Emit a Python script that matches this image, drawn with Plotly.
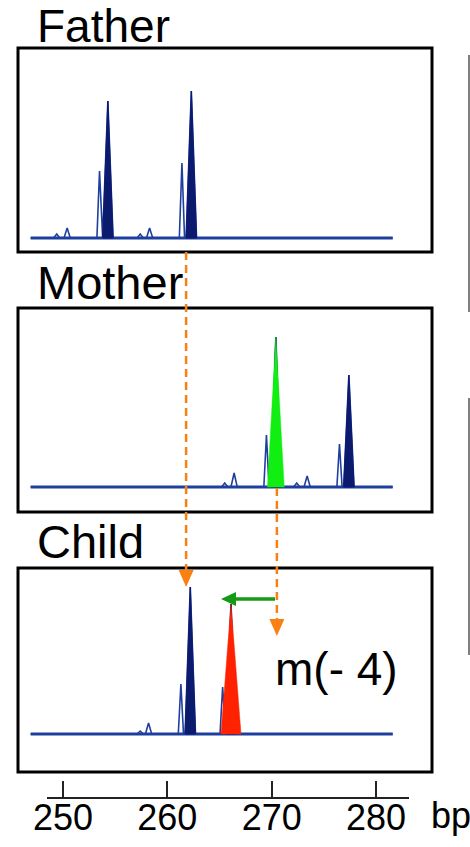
import plotly.graph_objects as go

W, H = 470, 847
FONT = "Liberation Sans, Arial, sans-serif"

# ---- fragment sizes (bp) and signal heights (RFU) ----
father_bp = [249.4, 250.4, 253.5, 254.3, 257.4, 258.3, 261.4, 262.3]
father_rfu = [40, 100, 670, 1370, 40, 100, 750, 1470]
father_kind = ["minor", "minor", "stutter", "allele", "minor", "minor", "stutter", "allele"]

mother_bp = [265.5, 266.4, 269.5, 270.4, 272.4, 273.4, 276.5, 277.4]
mother_rfu = [40, 140, 520, 1500, 40, 110, 430, 1120]
mother_kind = ["minor", "minor", "stutter", "allele", "minor", "minor", "stutter", "allele"]

child_bp = [257.4, 258.2, 261.3, 262.2, 265.3, 266.1]
child_rfu = [30, 110, 500, 1470, 470, 1300]
child_kind = ["minor", "minor", "stutter", "allele", "stutter", "allele"]

run_start, run_end = 246.9, 281.6          # scanned size window
size_ticks = [250, 260, 270, 280]

paternal_allele = 261.8                    # passed father -> child
maternal_allele = 270.5                    # mother's allele, expected in child
maternal_peak = 270.4                      # highlighted in mother
mutant_peak = 266.1                        # highlighted in child
mutation_label = "m(- 4)"

# ---- drawing constants ----
BASE = "#1f3f9f"
NAVY = "#0c1a6e"
GREEN = "#11ee11"
RED = "#ff2200"
ORANGE = "#f98012"
ARROW_GREEN = "#149a14"

HALF_W = {"minor": 0.3, "stutter": 0.25, "allele": 0.5}

# pixel -> bp mapping used for the common size axis
PX_PER_BP = (376 - 63) / 30.0
def bp_at(px):
    return 250 + (px - 63) / PX_PER_BP

def py(p):
    return 1 - p / H

def px(p):
    return p / W

panels = [
    # name, peaks, box top/bottom px, baseline px, title centre px, title size
    ("Father", father_bp, father_rfu, father_kind, 48, 252, 238, 26, 46),
    ("Mother", mother_bp, mother_rfu, mother_kind, 308, 512, 487, 282.5, 47),
    ("Child", child_bp, child_rfu, child_kind, 568, 772, 734, 541.5, 47),
]

fig = go.Figure()
layout = dict(
    width=W, height=H, margin=dict(l=0, r=0, t=0, b=0, pad=0, autoexpand=False),
    paper_bgcolor="white", plot_bgcolor="rgba(0,0,0,0)",
    showlegend=False, font=dict(family=FONT, color="black"),
)
shapes = []
annotations = []

for i, (name, bps, rfus, kinds, top, bot, base, title_y, title_size) in enumerate(panels, start=1):
    xa = "x" if i == 1 else f"x{i}"
    ya = "y" if i == 1 else f"y{i}"
    layout["xaxis" if i == 1 else f"xaxis{i}"] = dict(
        domain=[px(18), px(432)], range=[bp_at(18), bp_at(432)],
        anchor=ya, visible=False, fixedrange=True, automargin=False)
    layout["yaxis" if i == 1 else f"yaxis{i}"] = dict(
        domain=[py(bot), py(top)], range=[-(bot - base) * 10, (base - top) * 10],
        anchor=xa, visible=False, fixedrange=True, automargin=False)

    # flat baseline of the run
    fig.add_trace(go.Scatter(x=[run_start, run_end], y=[0, 0], mode="lines",
                             line=dict(color=BASE, width=3), xaxis=xa, yaxis=ya,
                             hoverinfo="skip"))
    # electropherogram trace with every peak
    order = sorted(range(len(bps)), key=lambda k: bps[k])
    xs, ys = [run_start], [0]
    for k in order:
        w = HALF_W[kinds[k]]
        xs += [bps[k] - w, bps[k], bps[k] + w]
        ys += [0, rfus[k], 0]
    xs.append(run_end)
    ys.append(0)
    fig.add_trace(go.Scatter(x=xs, y=ys, mode="lines",
                             line=dict(color=BASE, width=1.6), xaxis=xa, yaxis=ya,
                             hoverinfo="skip"))
    # filled allele peaks
    for k in order:
        if kinds[k] != "allele":
            continue
        w = HALF_W["allele"]
        fig.add_trace(go.Scatter(x=[bps[k] - w, bps[k], bps[k] + w, bps[k] - w],
                                 y=[0, rfus[k], 0, 0], mode="lines", fill="toself",
                                 fillcolor=NAVY, line=dict(color=NAVY, width=1),
                                 xaxis=xa, yaxis=ya, hoverinfo="skip"))
        # highlighted alleles
        hl = None
        if name == "Mother" and bps[k] == maternal_peak:
            hl = (GREEN, 0.8)
        if name == "Child" and bps[k] == mutant_peak:
            hl = (RED, 0.96)
        if hl:
            col, hw = hl
            fig.add_trace(go.Scatter(x=[bps[k] - hw, bps[k], bps[k] + hw, bps[k] - hw],
                                     y=[0, rfus[k], 0, 0], mode="lines", fill="toself",
                                     fillcolor=col, line=dict(color=col, width=0.5),
                                     xaxis=xa, yaxis=ya, hoverinfo="skip"))

    # panel frame
    shapes.append(dict(type="rect", xref="paper", yref="paper",
                       x0=px(18), x1=px(432), y0=py(bot), y1=py(top),
                       line=dict(color="black", width=3), layer="above"))
    annotations.append(dict(text=name, x=px(36), y=py(title_y), xref="paper",
                            yref="paper", xanchor="left", yanchor="middle",
                            showarrow=False, borderpad=0,
                            font=dict(size=title_size, color="black")))

# size axis
layout["xaxis4"] = dict(domain=[px(47), px(409)], range=[bp_at(47), bp_at(409)],
                        anchor="y4", showline=True, linecolor="#222", linewidth=2,
                        ticks="inside", ticklen=16, tickwidth=2, tickcolor="#222",
                        tickvals=size_ticks, ticktext=[str(t) for t in size_ticks],
                        tickfont=dict(size=36, color="black"), showgrid=False,
                        zeroline=False, fixedrange=True, automargin=False,
                        ticklabelstandoff=-12)
layout["yaxis4"] = dict(domain=[py(797), py(780)], visible=False, anchor="x4",
                        fixedrange=True, automargin=False)
fig.add_trace(go.Scatter(x=[size_ticks[0]], y=[0], mode="markers",
                         marker=dict(opacity=0), xaxis="x4", yaxis="y4",
                         hoverinfo="skip"))
annotations.append(dict(text="bp", x=px(429), y=py(815), xref="paper", yref="paper",
                        xanchor="left", yanchor="middle", showarrow=False,
                        font=dict(size=36, color="black")))

# inheritance arrows (orange, dashed)
for xb, y_from, y_tip in [(paternal_allele, 252, 587), (maternal_allele, 488, 636)]:
    shapes.append(dict(type="line", xref="x", yref="paper", x0=xb, x1=xb,
                       y0=py(y_from), y1=py(y_tip - 15),
                       line=dict(color=ORANGE, width=2.5, dash="8px,5px")))
    hw = 7.5 / PX_PER_BP
    shapes.append(dict(type="path", xref="x", yref="paper",
                       path=f"M {xb - hw} {py(y_tip - 17)} L {xb + hw} {py(y_tip - 17)} "
                            f"L {xb} {py(y_tip)} Z",
                       fillcolor=ORANGE, line=dict(color=ORANGE, width=0)))

# mutation step arrow (green)
ya_px = 599
head_len = 15 / PX_PER_BP
tip = bp_at(221)
start = bp_at(275)
shapes.append(dict(type="line", xref="x", yref="paper", x0=start, x1=tip + head_len,
                   y0=py(ya_px), y1=py(ya_px), line=dict(color=ARROW_GREEN, width=3.5)))
shapes.append(dict(type="path", xref="x", yref="paper",
                   path=f"M {tip} {py(ya_px)} L {tip + head_len} {py(ya_px - 7)} "
                        f"L {tip + head_len} {py(ya_px + 7)} Z",
                   fillcolor=ARROW_GREEN, line=dict(color=ARROW_GREEN, width=0)))

annotations.append(dict(text=mutation_label, x=px(336), y=py(669), xref="paper",
                        yref="paper", xanchor="center", yanchor="middle",
                        showarrow=False, font=dict(size=46, color="black")))

# side rule fragments
for y0, y1 in [(55, 312), (398, 655)]:
    shapes.append(dict(type="line", xref="paper", yref="paper", x0=px(469), x1=px(469),
                       y0=py(y0), y1=py(y1), line=dict(color="#555", width=1.5)))

layout["shapes"] = shapes
layout["annotations"] = annotations
fig.update_layout(**layout)
fig.write_html("out.html", config={"displayModeBar": False})
